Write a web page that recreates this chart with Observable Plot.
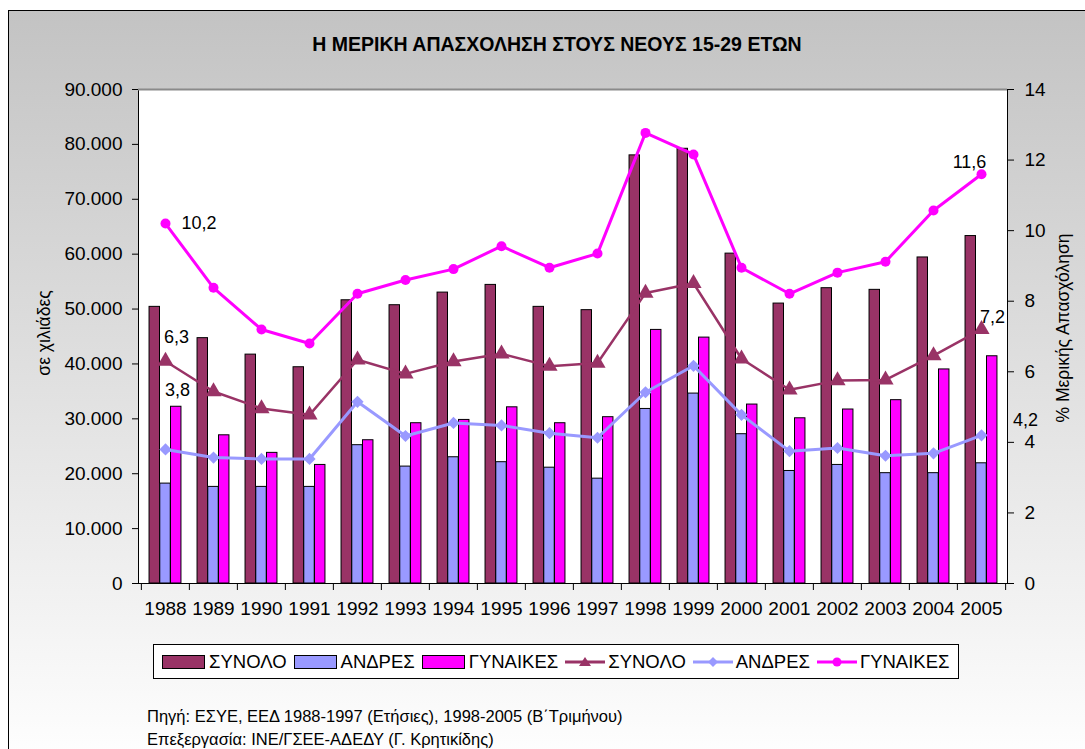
<!DOCTYPE html>
<html>
<head>
<meta charset="utf-8">
<script src="https://cdn.jsdelivr.net/npm/d3@7"></script>
<script src="https://cdn.jsdelivr.net/npm/@observablehq/plot@0.6"></script>
<style>
  body { margin: 0; background: #fff; font-family: "Liberation Sans", Arial, sans-serif; }
  #wrap { position: relative; width: 1085px; height: 749px; overflow: hidden; }
  #bg { position: absolute; left: 8px; top: 10px; width: 1100px; height: 760px; border: 1px solid #000;
        box-sizing: border-box; background: linear-gradient(#c3c3c3, #ffffff); }
  #chart { position: absolute; left: 0; top: 0; }
  #title { position: absolute; left: 0; width: 1114px; top: 33px; text-align: center; font-weight: bold; font-size: 19.5px; }
  .ytitle { position: absolute; white-space: nowrap; font-size: 17.5px; }
  #legend { position: absolute; left: 153px; top: 644px; width: 806px; height: 35px; box-sizing: border-box;
            border: 1px solid #000; background: #fff; display: flex; align-items: center; padding-left: 8px; font-size: 18.5px; }
  .item { display: flex; align-items: center; margin-right: 7px; white-space: nowrap; }
  .item svg { margin-right: 3px; }
  #caption { position: absolute; left: 147px; top: 705px; font-size: 16.5px; line-height: 23px; }
</style>
</head>
<body>
<div id="wrap">
  <div id="bg"></div>
  <div id="title"></div>
  <div id="chart"></div>
  <div class="ytitle" id="yl"></div>
  <div class="ytitle" id="yr"></div>
  <div id="legend"></div>
  <div id="caption"></div>
</div>
<script>
// ---- data ----
const years = ["1988","1989","1990","1991","1992","1993","1994","1995","1996","1997","1998","1999","2000","2001","2002","2003","2004","2005"];
const totalThousands = [50400, 44700, 41700, 39400, 51600, 50700, 53000, 54400, 50400, 49800, 78000, 79200, 60100, 51000, 53800, 53500, 59400, 63300];
const menThousands   = [18200, 17600, 17600, 17600, 25200, 21300, 23000, 22100, 21100, 19100, 31800, 34600, 27200, 20500, 21600, 20100, 20100, 21900];
const womenThousands = [32200, 27000, 23800, 21600, 26100, 29200, 29800, 32100, 29200, 30300, 46200, 44800, 32600, 30100, 31700, 33400, 39000, 41400];
const pctTotal = [6.3, 5.44, 4.96, 4.78, 6.34, 5.94, 6.29, 6.51, 6.16, 6.25, 8.23, 8.51, 6.37, 5.49, 5.75, 5.77, 6.46, 7.2];
const pctMen   = [3.8, 3.57, 3.53, 3.53, 5.15, 4.18, 4.55, 4.48, 4.26, 4.13, 5.42, 6.17, 4.78, 3.75, 3.84, 3.62, 3.69, 4.2];
const pctWomen = [10.2, 8.38, 7.2, 6.8, 8.21, 8.6, 8.91, 9.56, 8.95, 9.35, 12.77, 12.16, 8.95, 8.21, 8.81, 9.12, 10.57, 11.6];
const leftTicks = [0, 10000, 20000, 30000, 40000, 50000, 60000, 70000, 80000, 90000];
const rightTicks = [0, 2, 4, 6, 8, 10, 12, 14];
const seriesNames = ["ΣΥΝΟΛΟ", "ΑΝΔΡΕΣ", "ΓΥΝΑΙΚΕΣ"];
const titleText = "Η ΜΕΡΙΚΗ ΑΠΑΣΧΟΛΗΣΗ ΣΤΟΥΣ ΝΕΟΥΣ 15-29 ΕΤΩΝ";
const leftTitle = "σε χιλιάδες";
const rightTitle = "% Μερικής Απασχόληση";
const captionLines = ["Πηγή: ΕΣΥΕ, ΕΕΔ 1988-1997 (Ετήσιες), 1998-2005 (Β΄Τριμήνου)", "Επεξεργασία: ΙΝΕ/ΓΣΕΕ-ΑΔΕΔΥ (Γ. Κρητικίδης)"];

const colTotal = "#993366", colMen = "#9999ff", colWomen = "#ff00ff";

const rows = years.map((y, i) => ({
  year: y, total: totalThousands[i], men: menThousands[i], women: womenThousands[i],
  pTotal: pctTotal[i], pMen: pctMen[i], pWomen: pctWomen[i]
}));

const yMax = 90000, pMax = 14, K = yMax / pMax; // right-axis to left-axis factor
const loc = d3.formatLocale({decimal: ",", thousands: ".", grouping: [3], currency: ["", ""]});
const fmtK = loc.format(",");
const fmtP = loc.format(".1f");

const W = 1085, H = 630, mL = 138, mR = 78, mT = 89, mB = 47;
const bw = (W - mL - mR) / years.length;
const barW = bw / 4.5;
const inset = (bw - barW) / 2;
const font = '"Liberation Sans", Arial, sans-serif';

const first = [rows[0]], last = [rows[rows.length - 1]];
const lbl = (data, acc, opts) => Plot.text(data, {x: "year", y: d => acc(d) * K, text: d => fmtP(acc(d)), fontSize: 18, fill: "#000", ...opts});

const chart = Plot.plot({
  width: W, height: H, marginLeft: mL, marginRight: mR, marginTop: mT, marginBottom: mB,
  style: {background: "transparent", fontFamily: font, fontSize: "19px", color: "#000", overflow: "visible"},
  x: {type: "band", domain: years, padding: 0, axis: null},
  y: {domain: [0, yMax], axis: null},
  marks: [
    Plot.frame({fill: "#fff", stroke: "#000"}),
    Plot.ruleY([yMax], {stroke: "#8a8a8a", strokeWidth: 2}),
    Plot.barY(rows, {x: "year", y: "total", fill: colTotal, stroke: "#000", strokeWidth: 1, insetLeft: inset, insetRight: inset, dx: -barW}),
    Plot.barY(rows, {x: "year", y: "men", fill: colMen, stroke: "#000", strokeWidth: 1, insetLeft: inset, insetRight: inset}),
    Plot.barY(rows, {x: "year", y: "women", fill: colWomen, stroke: "#000", strokeWidth: 1, insetLeft: inset, insetRight: inset, dx: barW}),
    Plot.line(rows, {x: "year", y: d => d.pTotal * K, stroke: colTotal, strokeWidth: 2.5}),
    Plot.dot(rows, {x: "year", y: d => d.pTotal * K, symbol: "triangle", r: 6, fill: colTotal}),
    Plot.line(rows, {x: "year", y: d => d.pMen * K, stroke: colMen, strokeWidth: 3}),
    Plot.dot(rows, {x: "year", y: d => d.pMen * K, symbol: "diamond2", r: 5.5, fill: colMen}),
    Plot.line(rows, {x: "year", y: d => d.pWomen * K, stroke: colWomen, strokeWidth: 3}),
    Plot.dot(rows, {x: "year", y: d => d.pWomen * K, symbol: "circle", r: 5, fill: colWomen}),
    lbl(first, d => d.pWomen, {textAnchor: "start", dx: 16}),
    lbl(first, d => d.pTotal, {dx: 11, dy: -24}),
    lbl(first, d => d.pMen, {dx: 12, dy: -59}),
    lbl(last, d => d.pWomen, {dx: -12, dy: -12}),
    lbl(last, d => d.pTotal, {dx: 11, dy: -12}),
    lbl(last, d => d.pMen, {dx: 44, dy: -15}),
    Plot.axisY(leftTicks, {anchor: "left", tickSize: 6, tickPadding: 10, tickFormat: fmtK, label: null, fontSize: 19}),
    Plot.axisY(rightTicks.map(p => p * K), {anchor: "right", tickSize: 6, tickPadding: 11, tickFormat: d => String(Math.round(d / K)), label: null, fontSize: 19}),
    Plot.axisX(years, {anchor: "bottom", tickSize: 0, tickPadding: 18, label: null, fontSize: 19}),
    Plot.axisX(years, {anchor: "bottom", tickSize: 7, tickFormat: () => "", label: null, dx: -bw / 2}),
    Plot.axisX(years.slice(-1), {anchor: "bottom", tickSize: 7, tickFormat: () => "", label: null, dx: bw / 2})
  ]
});
document.getElementById("chart").appendChild(chart);

document.getElementById("title").textContent = titleText;
const yl = document.getElementById("yl");
yl.textContent = leftTitle;
yl.style.left = "44px"; yl.style.top = "333px"; yl.style.transform = "translate(-50%,-50%) rotate(-90deg)";
const yr = document.getElementById("yr");
yr.textContent = rightTitle;
yr.style.left = "1063px"; yr.style.top = "328px"; yr.style.transform = "translate(-50%,-50%) rotate(-90deg)";

// legend
const legend = document.getElementById("legend");
const colors = [colTotal, colMen, colWomen];
const symbols = ["triangle", "diamond", "circle"];
function barSwatch(c) {
  return `<svg width="44" height="16"><rect x="0.5" y="1.5" width="42" height="13" fill="${c}" stroke="#000"/></svg>`;
}
function lineSwatch(c, s) {
  let m = "";
  if (s === "triangle") m = `<path d="M20,3 L26,12 L14,12 Z" fill="${c}"/>`;
  if (s === "diamond") m = `<path d="M20,3 L25,8 L20,13 L15,8 Z" fill="${c}"/>`;
  if (s === "circle") m = `<circle cx="20" cy="8" r="4.5" fill="${c}"/>`;
  return `<svg width="40" height="16"><line x1="0" y1="8" x2="40" y2="8" stroke="${c}" stroke-width="3"/>${m}</svg>`;
}
let html = "";
seriesNames.forEach((n, i) => { html += `<div class="item">${barSwatch(colors[i])}<span>${n}</span></div>`; });
seriesNames.forEach((n, i) => { html += `<div class="item">${lineSwatch(colors[i], symbols[i])}<span>${n}</span></div>`; });
legend.innerHTML = html;

document.getElementById("caption").innerHTML = captionLines.map(t => `<div>${t}</div>`).join("");
</script>
</body>
</html>
